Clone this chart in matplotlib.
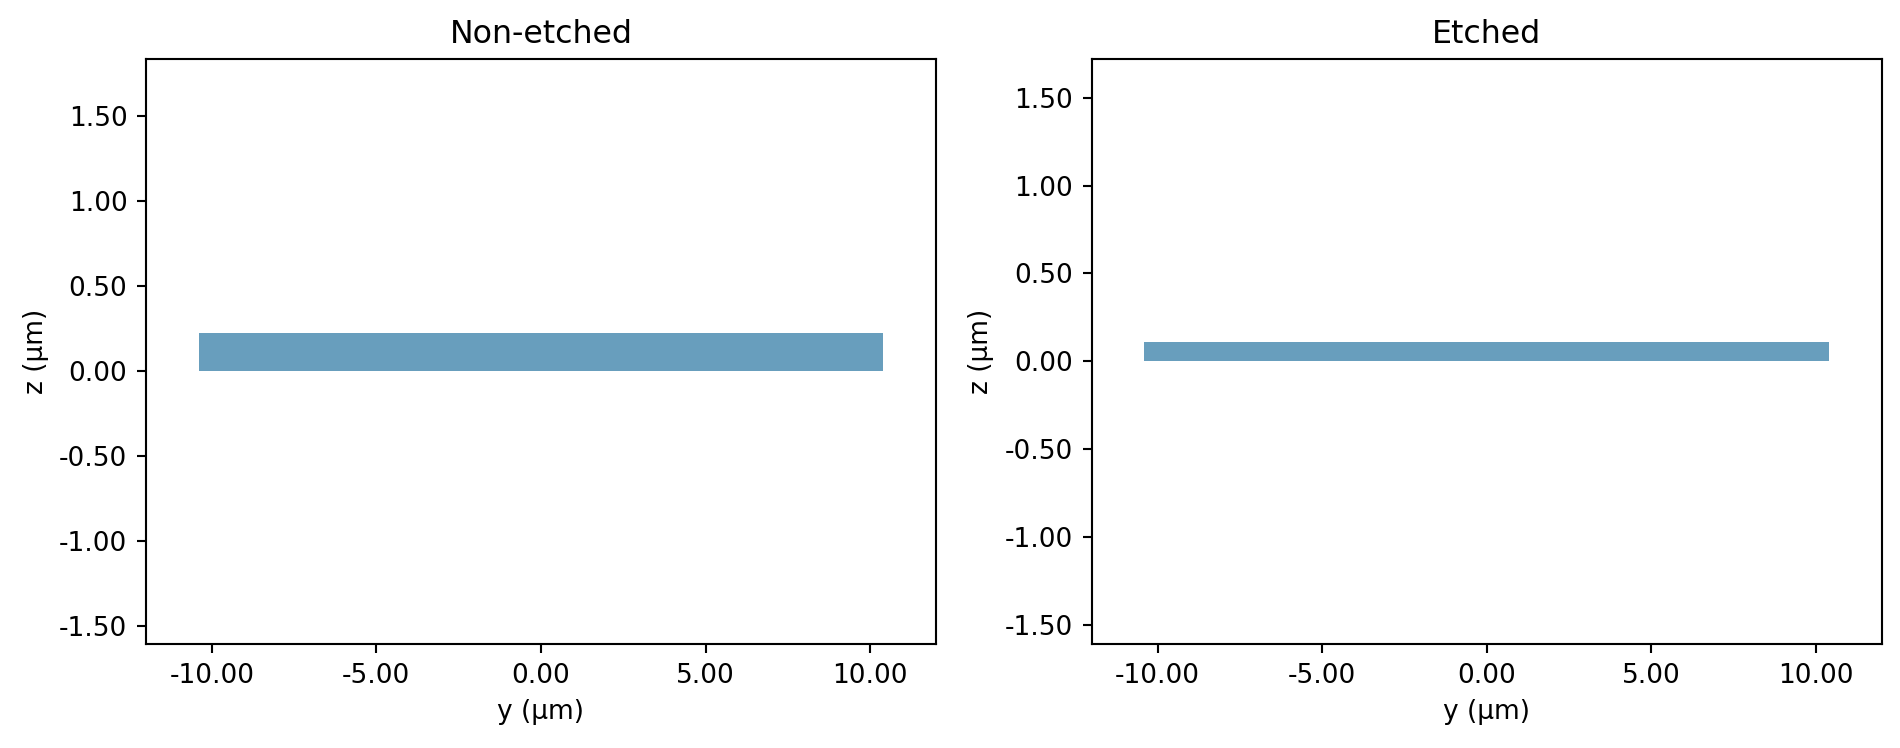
import numpy as np
import matplotlib
matplotlib.use('Agg')
import matplotlib.pyplot as plt
from matplotlib.patches import Rectangle
from matplotlib.ticker import FormatStrFormatter

# layer geometry (um)
titles = ['Non-etched', 'Etched']
y_left = [-10.4, -10.4]
widths = [20.8, 20.8]
z_bottom = [0.0, 0.0]
thickness = [0.22, 0.11]
xlims = [(-12, 12), (-12, 12)]
ylims = [(-1.61, 1.835), (-1.61, 1.72)]

fig = plt.figure(figsize=(1900/190, 748/190), dpi=190)
ax1 = fig.add_axes([0.0768, 0.1386, 0.4158, 0.7825])
ax2 = fig.add_axes([0.5746, 0.1386, 0.4158, 0.7825])

for i, ax in enumerate([ax1, ax2]):
    ax.add_patch(Rectangle((y_left[i], z_bottom[i]), widths[i], thickness[i],
                           facecolor='#689ebd', edgecolor='none'))
    ax.set_xlim(xlims[i])
    ax.set_ylim(ylims[i])
    ax.set_xticks([-10, -5, 0, 5, 10])
    ax.set_yticks([-1.5, -1.0, -0.5, 0.0, 0.5, 1.0, 1.5])
    ax.xaxis.set_major_formatter(FormatStrFormatter('%.2f'))
    ax.yaxis.set_major_formatter(FormatStrFormatter('%.2f'))
    ax.set_xlabel('y (µm)')
    ax.set_ylabel('z (µm)')
    ax.set_title(titles[i])

fig.savefig('out.png', dpi=190)
